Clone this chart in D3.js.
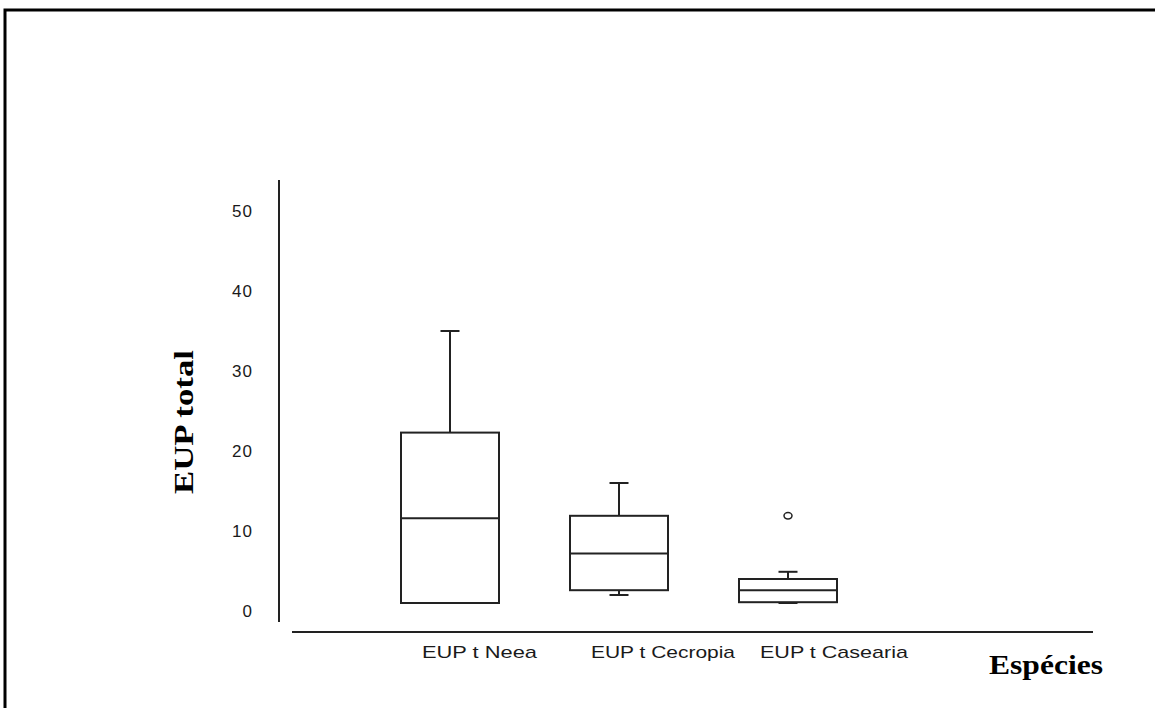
<!DOCTYPE html>
<html>
<head>
<meta charset="utf-8">
<script src="https://cdn.jsdelivr.net/npm/d3@7"></script>
<style>
html,body{margin:0;padding:0;background:#fff;}
svg{display:block;}
</style>
</head>
<body>
<script>
// ---- data ----
const categories = ["EUP t Neea", "EUP t Cecropia", "EUP t Casearia"];
const whiskerLow  = [1, 2, 1];
const q1          = [1, 2.6, 1.1];
const median      = [11.6, 7.2, 2.6];
const q3          = [22.3, 11.9, 4];
const whiskerHigh = [35, 16, 4.9];
const outliers    = [[], [], [11.9]];
const yTicks      = [0, 10, 20, 30, 40, 50];

const W = 1155, H = 708;
const svg = d3.select("body").append("svg").attr("width", W).attr("height", H);
svg.append("rect").attr("width", W).attr("height", H).attr("fill", "#fff");

// frame
svg.append("path").attr("d", `M5,${H} L5,10 L${W},10`)
  .attr("fill", "none").attr("stroke", "#000").attr("stroke-width", 3);

const y = d3.scaleLinear().domain([0, 50]).range([611, 211]);
const x = d3.scalePoint().domain(categories).range([450, 788]);

// y axis line
svg.append("line").attr("x1", 279).attr("x2", 279).attr("y1", 180).attr("y2", 622)
  .attr("stroke", "#222").attr("stroke-width", 2);
// x axis line
svg.append("line").attr("x1", 292).attr("x2", 1093).attr("y1", 632).attr("y2", 632)
  .attr("stroke", "#222").attr("stroke-width", 2);

// y tick labels
svg.append("g").selectAll("text").data(yTicks).join("text")
  .attr("x", 253).attr("y", d => y(d)).attr("dy", "0.36em")
  .attr("text-anchor", "end")
  .attr("font-family", "Liberation Sans, Arial, sans-serif")
  .attr("font-size", 17).attr("letter-spacing", 1)
  .attr("fill", "#1a1a1a")
  .text(d => d);

// category labels
svg.append("g").selectAll("text").data(categories).join("text")
  .attr("x", d => x(d) - 28).attr("y", 658)
  .attr("font-family", "Liberation Sans, Arial, sans-serif")
  .attr("font-size", 17).attr("fill", "#1a1a1a")
  .attr("textLength", (d, i) => [115, 144, 148][i])
  .attr("lengthAdjust", "spacingAndGlyphs")
  .text(d => d);

// axis titles
svg.append("text").attr("x", 989).attr("y", 674)
  .attr("font-family", "Liberation Serif, Times New Roman, serif")
  .attr("font-weight", "bold").attr("font-size", 27)
  .attr("textLength", 114).attr("lengthAdjust", "spacingAndGlyphs")
  .text("Espécies");

svg.append("text").attr("transform", "translate(193,494) rotate(-90)")
  .attr("font-family", "Liberation Serif, Times New Roman, serif")
  .attr("font-weight", "bold").attr("font-size", 28)
  .attr("textLength", 144).attr("lengthAdjust", "spacingAndGlyphs")
  .text("EUP total");

// boxes
const boxW = 98, capW = 19;
const g = svg.append("g").attr("fill", "none").attr("stroke", "#222").attr("stroke-width", 2);
categories.forEach((c, i) => {
  const cx = x(c);
  g.append("line").attr("x1", cx).attr("x2", cx).attr("y1", y(q3[i])).attr("y2", y(whiskerHigh[i]));
  g.append("line").attr("x1", cx - capW/2).attr("x2", cx + capW/2).attr("y1", y(whiskerHigh[i])).attr("y2", y(whiskerHigh[i]));
  if (whiskerLow[i] < q1[i]) {
    g.append("line").attr("x1", cx).attr("x2", cx).attr("y1", y(q1[i])).attr("y2", y(whiskerLow[i]));
    g.append("line").attr("x1", cx - capW/2).attr("x2", cx + capW/2).attr("y1", y(whiskerLow[i])).attr("y2", y(whiskerLow[i]));
  }
  g.append("rect").attr("x", cx - boxW/2).attr("y", y(q3[i]))
    .attr("width", boxW).attr("height", y(q1[i]) - y(q3[i]));
  g.append("line").attr("x1", cx - boxW/2).attr("x2", cx + boxW/2).attr("y1", y(median[i])).attr("y2", y(median[i]));
  outliers[i].forEach(o => {
    g.append("ellipse").attr("cx", cx).attr("cy", y(o)).attr("rx", 4).attr("ry", 3.2).attr("stroke-width", 1.5);
  });
});
</script>
</body>
</html>
